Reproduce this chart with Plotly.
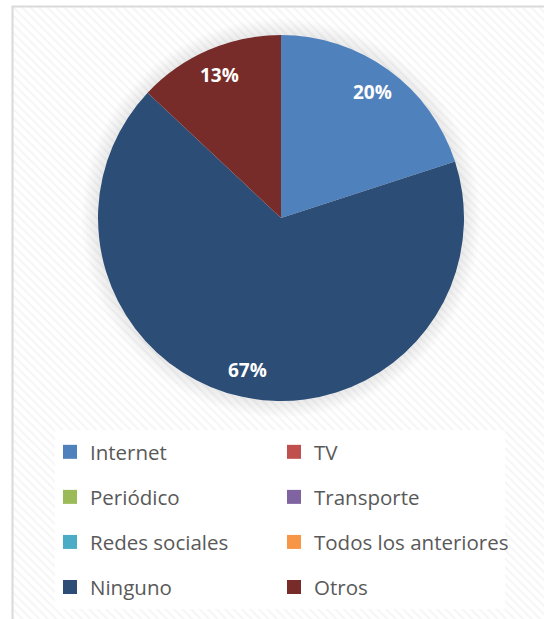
import math
import plotly.graph_objects as go

# Survey answers and their share of responses
labels = ["Internet", "TV", "Periódico", "Transporte",
          "Redes sociales", "Todos los anteriores", "Ninguno", "Otros"]
values = [20, 0, 0, 0, 0, 0, 67, 13]
colors = ["#4F81BD", "#C0504D", "#9BBB59", "#8064A2",
          "#4BACC6", "#F79646", "#2C4D75", "#772C2A"]

# Legend layout: two columns, filled row by row
col1 = [0, 2, 4, 6]
col2 = [1, 3, 5, 7]

W, H = 544, 619
CX, CY, R = 281, 218, 183  # pie centre and radius in pixels


def px(x):
    return x / W


def py(y):
    return 1 - y / H


fig = go.Figure()

# Hatched chart-area background
fig.add_trace(go.Bar(
    x=[0.5], y=[1], width=[1], base=[0],
    marker=dict(color="#ffffff", line=dict(width=0),
                pattern=dict(shape="\\", fgcolor="#ececec", bgcolor="#ffffff",
                             size=6, solidity=0.35)),
    hoverinfo="skip", showlegend=False,
))

fig.add_trace(go.Pie(
    labels=labels, values=values,
    marker=dict(colors=colors, line=dict(width=0)),
    sort=False, direction="clockwise", rotation=0,
    textinfo="none", hoverinfo="label+percent",
    showlegend=False,
    domain=dict(x=[px(CX - R), px(CX + R)], y=[py(CY + R), py(CY - R)]),
))

# Legend entries, one per category
for idx, leg in [(i, "legend") for i in col1] + [(i, "legend2") for i in col2]:
    fig.add_trace(go.Scatter(
        x=[None], y=[None], mode="markers", name=labels[idx],
        marker=dict(symbol="square", size=14, color=colors[idx]),
        legend=leg, legendgroup=labels[idx], showlegend=True,
    ))

# Percentage labels placed along each slice's mid-angle
total = sum(values)
annotations = []
cum = 0
for v in values:
    if v > 0:
        mid = (cum + v / 2) / total * 2 * math.pi
        lx = CX + 0.85 * R * math.sin(mid)
        ly = CY - 0.85 * R * math.cos(mid)
        annotations.append(dict(
            x=px(lx), y=py(ly), xref="paper", yref="paper",
            xanchor="center", yanchor="middle",
            text=f"{round(v / total * 100)}%", showarrow=False,
            font=dict(family="Open Sans", size=19, color="#ffffff", weight="bold"),
        ))
    cum += v

shapes = []
# Soft shadow around the pie
for k in range(8):
    rr = R + 1 + 2 * k
    shapes.append(dict(
        type="circle", xref="paper", yref="paper", layer="above",
        x0=px(CX - rr), x1=px(CX + rr), y0=py(CY + rr), y1=py(CY - rr),
        line=dict(color=f"rgba(0,0,0,{0.08 * (1 - k / 8):.3f})", width=2),
    ))
# White legend panel
shapes.append(dict(
    type="rect", xref="paper", yref="paper", layer="above",
    x0=px(55), x1=px(505), y0=py(609), y1=py(430),
    fillcolor="#ffffff", line=dict(width=0),
))
# Chart-area border
shapes.append(dict(
    type="rect", xref="paper", yref="paper", layer="above",
    x0=px(12.5), x1=px(W + 10), y0=py(H + 10), y1=py(6.5),
    line=dict(color="#d9d9d9", width=2),
))

legend_style = dict(
    font=dict(family="Open Sans", size=20.5, color="#595959"),
    bgcolor="rgba(0,0,0,0)", borderwidth=0,
    orientation="v", tracegroupgap=15.4,
    xanchor="left", yanchor="top", y=py(432),
)

fig.update_layout(
    width=W, height=H,
    margin=dict(l=0, r=0, t=0, b=0),
    paper_bgcolor="#ffffff", plot_bgcolor="rgba(0,0,0,0)",
    xaxis=dict(domain=[px(13), 1], range=[0, 1], visible=False, fixedrange=True),
    yaxis=dict(domain=[0, py(7)], range=[0, 1], visible=False, fixedrange=True),
    bargap=0,
    legend=dict(x=px(50), **legend_style),
    legend2=dict(x=px(274), **legend_style),
    annotations=annotations,
    shapes=shapes,
)

fig.write_html("out.html")
